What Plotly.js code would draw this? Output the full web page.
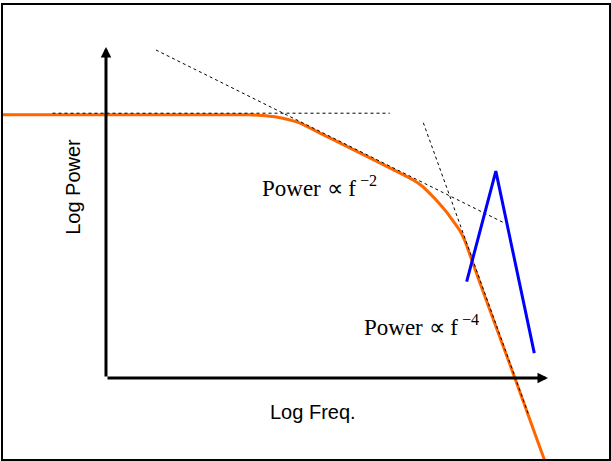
<!DOCTYPE html>
<html>
<head>
<meta charset="utf-8">
<script src="https://cdn.plot.ly/plotly-3.0.1.min.js"></script>
<style>html,body{margin:0;padding:0;background:#fff;}#chart{width:611px;height:461px;}</style>
</head>
<body>
<div id="chart"></div>
<script>
// Schematic spectrum in (log frequency, log power) units; axes span 0..10
var specLogF = [-2.6, 3.24, 3.53, 3.82, 4.12, 4.39, 4.84, 6.95, 7.15, 7.33, 7.53, 7.72, 7.87, 8.01, 8.12, 8.21, 8.30, 8.60, 9.25, 9.93, 10.05];
var specLogP = [7.95, 7.95, 7.93, 7.89, 7.81, 7.70, 7.40, 5.98, 5.80, 5.57, 5.29, 4.99, 4.71, 4.44, 4.14, 3.81, 3.47, 2.36, 0.00, -2.51, -2.85];

// Asymptotes (dotted)
var flatLogF = [-1.21, 6.42];
var flatLogP = [8.00, 8.00];
var slope2LogF = [1.13, 9.03];
var slope2LogP = [9.91, 4.67];
var slope4LogF = [7.18, 9.55];
var slope4LogP = [7.71, -1.07];

// Spectral peak (blue)
var peakLogF = [8.16, 8.82, 9.69];
var peakLogP = [2.91, 6.25, 0.75];

// Axis extents
var axisMax = 10;

var labels = {
  slope2: 'Power \u221D f<sup> \u22122</sup>',
  slope4: 'Power \u221D f<sup> \u22124</sup>',
  xTitle: 'Log Freq.',
  yTitle: 'Log Power'
};

var serif = {family: '"Liberation Serif", "Times New Roman", serif', size: 23, color: '#000'};
var sans = {family: '"Liberation Sans", Arial, sans-serif', size: 20, color: '#000'};

var traces = [
  {x: specLogF, y: specLogP, mode: 'lines', line: {color: '#FF6600', width: 3, shape: 'spline', smoothing: 0.5}, hoverinfo: 'skip'},
  {x: flatLogF, y: flatLogP, mode: 'lines', line: {color: '#000', width: 1, dash: 'dot'}, hoverinfo: 'skip'},
  {x: slope2LogF, y: slope2LogP, mode: 'lines', line: {color: '#000', width: 1, dash: 'dot'}, hoverinfo: 'skip'},
  {x: slope4LogF, y: slope4LogP, mode: 'lines', line: {color: '#000', width: 1, dash: 'dot'}, hoverinfo: 'skip'},
  {x: peakLogF, y: peakLogP, mode: 'lines', line: {color: '#0000FF', width: 3}, hoverinfo: 'skip'}
];

var layout = {
  width: 611, height: 461,
  margin: {l: 3, r: 2, t: 5, b: 2},
  paper_bgcolor: '#fff', plot_bgcolor: '#fff',
  showlegend: false,
  xaxis: {range: [-2.33, 11.38], showgrid: false, zeroline: false, showticklabels: false, ticks: '',
          showline: true, mirror: true, linecolor: '#000', linewidth: 2.5, fixedrange: true},
  yaxis: {range: [-2.45, 11.27], showgrid: false, zeroline: false, showticklabels: false, ticks: '',
          showline: true, mirror: true, linecolor: '#000', linewidth: 2.5, fixedrange: true},
  annotations: [
    {x: axisMax, y: 0, ax: 0, ay: 0, xref: 'x', yref: 'y', axref: 'x', ayref: 'y', text: '',
     showarrow: true, arrowhead: 2, arrowsize: 0.7, arrowwidth: 3, arrowcolor: '#000'},
    {x: 0, y: axisMax, ax: 0, ay: 0, xref: 'x', yref: 'y', axref: 'x', ayref: 'y', text: '',
     showarrow: true, arrowhead: 2, arrowsize: 0.7, arrowwidth: 3, arrowcolor: '#000'},
    {x: 3.49, y: 5.80, xref: 'x', yref: 'y', text: labels.slope2, showarrow: false,
     xanchor: 'left', yanchor: 'middle', font: serif},
    {x: 5.80, y: 1.57, xref: 'x', yref: 'y', text: labels.slope4, showarrow: false,
     xanchor: 'left', yanchor: 'middle', font: serif},
    {x: 4.68, y: -1.02, xref: 'x', yref: 'y', text: labels.xTitle, showarrow: false,
     xanchor: 'center', yanchor: 'middle', font: sans},
    {x: -0.75, y: 5.77, xref: 'x', yref: 'y', text: labels.yTitle, showarrow: false,
     xanchor: 'center', yanchor: 'middle', textangle: -90, font: sans}
  ]
};

Plotly.newPlot('chart', traces, layout, {staticPlot: true, displayModeBar: false});
</script>
</body>
</html>
